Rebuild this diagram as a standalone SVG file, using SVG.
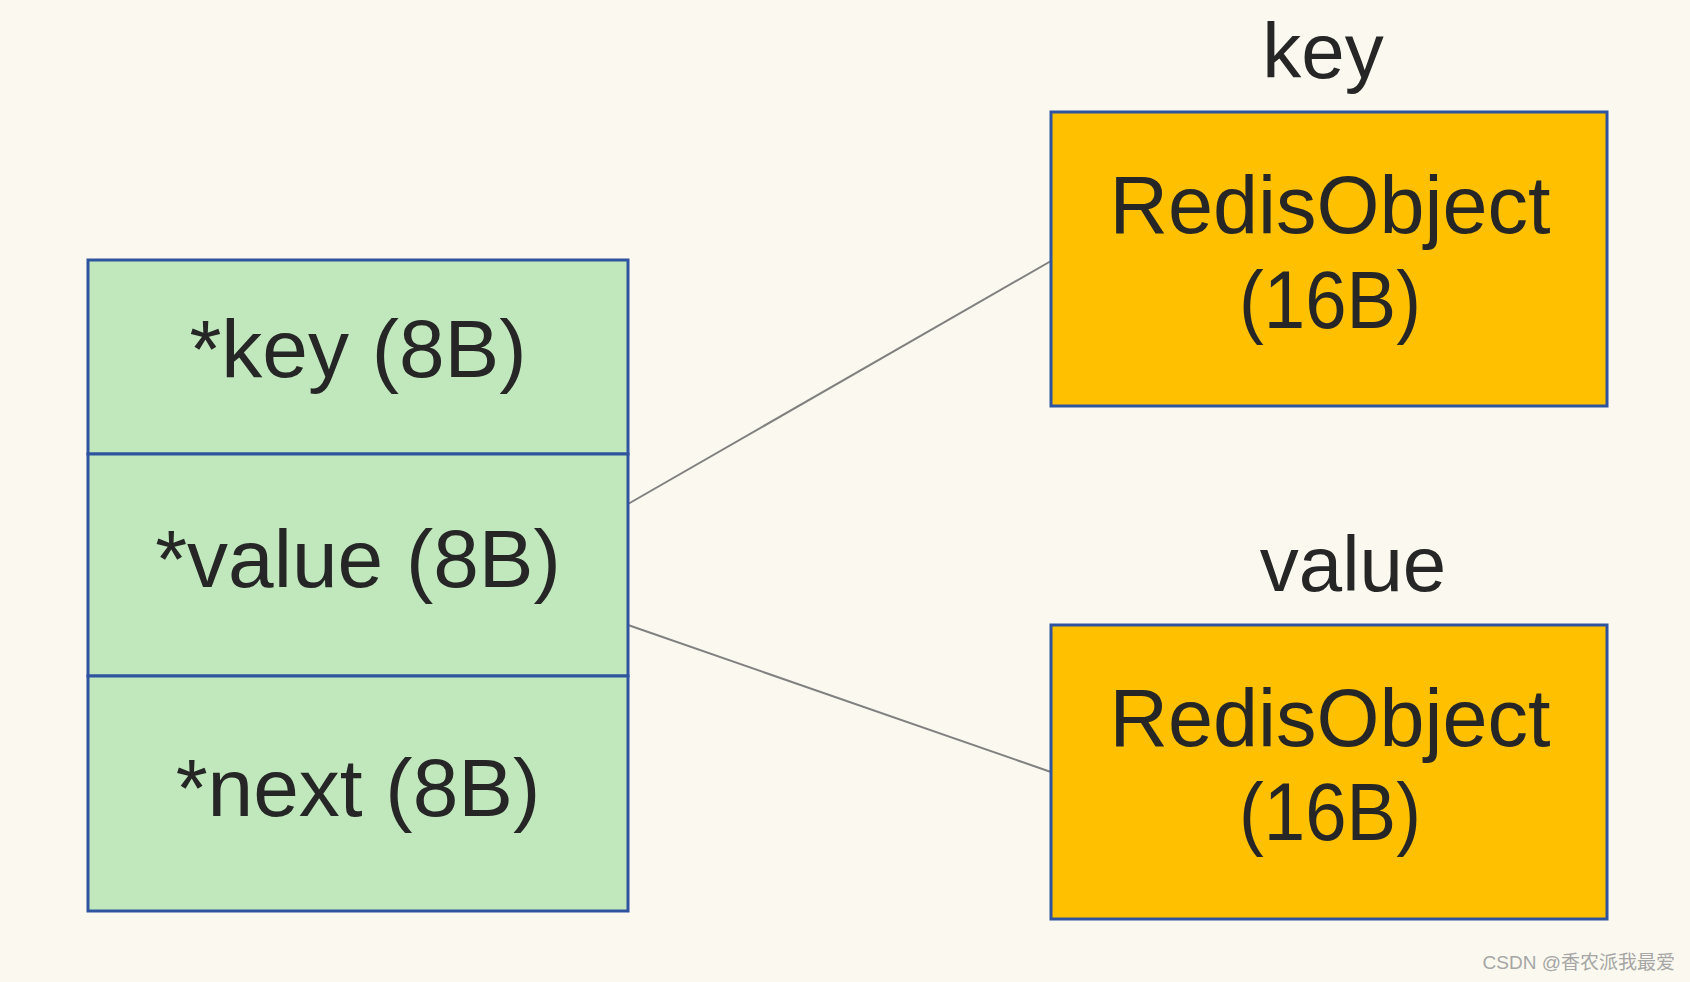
<svg xmlns="http://www.w3.org/2000/svg" width="1690" height="982" viewBox="0 0 1690 982">
<style>
.bg{fill:#FBF9EF}
.cell{fill:#C1E8BD;stroke:#2E54A0;stroke-width:3}
.obj{fill:#FFC000;stroke:#2E54A0;stroke-width:3}
.conn{stroke:#808080;stroke-width:2;fill:none}
.t{font-family:"Liberation Sans",Arial,sans-serif;fill:#262626;text-anchor:middle}
.big{font-size:82px}
.lbl{font-size:78px}
.wm{font-family:"Liberation Sans","Noto Sans CJK SC",sans-serif;font-size:19px;fill:#A6A6A6;text-anchor:end}
</style>
<rect class="bg" x="0" y="0" width="1690" height="982"/>
<g id="connectors">
<line class="conn" x1="628" y1="504" x2="1051" y2="261"/>
<line class="conn" x1="628" y1="625" x2="1051" y2="772"/>
</g>
<g id="entry">
<g id="cell-key">
<rect class="cell" x="88" y="260" width="540" height="194"/>
<text class="t big" x="358" y="377">*key (8B)</text>
</g>
<g id="cell-value">
<rect class="cell" x="88" y="454" width="540" height="222"/>
<text class="t big" x="358" y="587">*value (8B)</text>
</g>
<g id="cell-next">
<rect class="cell" x="88" y="676" width="540" height="235"/>
<text class="t big" x="358" y="816">*next (8B)</text>
</g>
</g>
<g id="key-object">
<text class="t lbl" x="1323" y="78">key</text>
<rect class="obj" x="1051" y="112" width="556" height="294"/>
<text class="t big" x="1330" y="233" textLength="441" lengthAdjust="spacingAndGlyphs">RedisObject</text>
<text class="t big" x="1330" y="328" textLength="182" lengthAdjust="spacingAndGlyphs">(16B)</text>
</g>
<g id="value-object">
<text class="t lbl" x="1353" y="591">value</text>
<rect class="obj" x="1051" y="625" width="556" height="294"/>
<text class="t big" x="1330" y="746" textLength="441" lengthAdjust="spacingAndGlyphs">RedisObject</text>
<text class="t big" x="1330" y="840" textLength="182" lengthAdjust="spacingAndGlyphs">(16B)</text>
</g>
<text class="wm" x="1675" y="969">CSDN @香农派我最爱</text>
</svg>
